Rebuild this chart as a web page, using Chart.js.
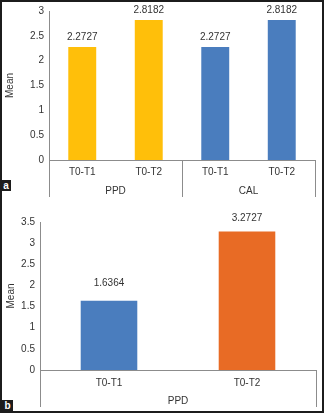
<!DOCTYPE html>
<html>
<head>
<meta charset="utf-8">
<script src="https://cdn.jsdelivr.net/npm/chart.js@4.4.1/dist/chart.umd.min.js"></script>
<style>
  html, body { margin: 0; padding: 0; background: #fff; }
  #wrap { position: relative; width: 324px; height: 413px; overflow: hidden; }
  canvas { position: absolute; left: 0; top: 0; }
  #frame { position: absolute; left: 0; top: 0; width: 324px; height: 413px; box-sizing: border-box; border: 2px solid #1c1c1c; pointer-events: none; }
  .tag { position: absolute; background: #1c1c1c; color: #fff; font: bold 10px "Liberation Sans", Arial, sans-serif; text-align: center; }
</style>
</head>
<body>
<div id="wrap">
  <div style="position:absolute;left:0;top:0;width:324px;height:199px;"><canvas id="ca"></canvas></div>
  <div style="position:absolute;left:0;top:199px;width:324px;height:214px;"><canvas id="cb"></canvas></div>
  <div class="tag" style="left:1px;top:180px;width:10px;height:11px;line-height:11px;">a</div>
  <div class="tag" style="left:2px;top:400px;width:11px;height:12px;line-height:12px;">b</div>
  <div id="frame"></div>
</div>
<script>
// ---- Data ----
const categoriesA = ["T0-T1", "T0-T2", "T0-T1", "T0-T2"];
const groupsA = ["PPD", "CAL"];
const valuesA = [2.2727, 2.8182, 2.2727, 2.8182];
const colorsA = ["#FFBF0A", "#FFBF0A", "#4A7DBE", "#4A7DBE"];

const categoriesB = ["T0-T1", "T0-T2"];
const groupsB = ["PPD"];
const valuesB = [1.6364, 3.2727];
const colorsB = ["#4A7DBE", "#E86B25"];

const FONT = "'Liberation Sans', Arial, sans-serif";
const FS = 10;
const TXT = "#333333";
const AXIS = "#8c8c8c";

const groupDividers = {
  id: "groupDividers",
  afterDraw(chart, args, opts) {
    const xs = chart.scales.x;
    const n = xs.ticks.length;
    const step = n > 1 ? (xs.getPixelForValue(n - 1) - xs.getPixelForValue(0)) / (n - 1) : (xs.right - xs.left);
    const ctx = chart.ctx;
    ctx.save();
    ctx.strokeStyle = AXIS;
    ctx.lineWidth = 1;
    for (let g = 0; g <= n / opts.per; g++) {
      let x = xs.getPixelForValue(0) - step / 2 + g * opts.per * step;
      x = Math.round(x) + 0.5;
      ctx.beginPath();
      ctx.moveTo(x, chart.chartArea.bottom);
      ctx.lineTo(x, chart.chartArea.bottom + opts.len);
      ctx.stroke();
    }
    ctx.restore();
  }
};
const valueLabels = {
  id: "valueLabels",
  afterDatasetsDraw(chart, args, opts) {
    const ctx = chart.ctx;
    const meta = chart.getDatasetMeta(0);
    const data = chart.data.datasets[0].data;
    ctx.save();
    ctx.font = FS + "px " + FONT;
    ctx.fillStyle = TXT;
    ctx.textAlign = "center";
    ctx.textBaseline = "middle";
    meta.data.forEach((el, i) => {
      ctx.fillText(data[i].toFixed(4), el.x, el.y - opts.offsets[i]);
    });
    ctx.restore();
  }
};

function makeChart(id, w, h, cats, groups, vals, colors, o) {
  const c = document.getElementById(id);
  c.width = w; c.height = h;
  c.style.width = w + "px"; c.style.height = h + "px";
  return new Chart(c, {
    type: "bar",
    data: { labels: cats, datasets: [{ data: vals, backgroundColor: colors, barPercentage: o.barPct, categoryPercentage: 1 }] },
    options: {
      responsive: false, animation: false, devicePixelRatio: 1,
      layout: { padding: o.padding },
      plugins: { legend: { display: false }, tooltip: { enabled: false },
        groupDividers: { per: o.per, len: o.divLen },
        valueLabels: { offsets: o.labelOffsets } },
      scales: {
        x: {
          type: "category", position: "bottom", offset: true,
          grid: { display: false, drawTicks: false }, border: { display: true, color: AXIS },
          ticks: { font: { family: FONT, size: FS }, color: TXT, padding: o.xPad, maxRotation: 0, autoSkip: false },
          afterFit(s) { s.height = o.xH; }
        },
        x2: {
          type: "category", position: "bottom", labels: groups, offset: true,
          grid: { display: false, drawTicks: false }, border: { display: false },
          ticks: { font: { family: FONT, size: FS }, color: TXT, padding: o.x2Pad, maxRotation: 0 },
          afterFit(s) { s.height = o.x2H; }
        },
        y: {
          min: 0, max: o.yMax,
          grid: { display: false, drawTicks: false }, border: { display: true, color: AXIS },
          ticks: { stepSize: 0.5, font: { family: FONT, size: FS }, color: TXT, padding: 5,
                   callback: (v) => String(Math.round(v * 100) / 100) },
          title: { display: true, text: "Mean", font: { family: FONT, size: FS }, color: TXT, padding: o.titlePad },
          afterFit(s) { s.width = o.yW; }
        }
      }
    },
    plugins: [groupDividers, valueLabels]
  });
}

makeChart("ca", 324, 199, categoriesA, groupsA, valuesA, colorsA, {
  barPct: 0.42, padding: { top: 10, right: 9, left: 0, bottom: 0 },
  per: 2, divLen: 37, labelOffsets: [10, 10, 10, 10],
  xPad: 6, xH: 22, x2Pad: 3, x2H: 17, yMax: 3, yW: 49, titlePad: { top: 4, bottom: 4 }
});
makeChart("cb", 324, 214, categoriesB, groupsB, valuesB, colorsB, {
  barPct: 0.41, padding: { top: 23, right: 8, left: 0, bottom: 2 },
  per: 2, divLen: 37, labelOffsets: [18, 13],
  xPad: 7, xH: 22, x2Pad: 3, x2H: 19, yMax: 3.5, yW: 40, titlePad: { top: 5, bottom: 4 }
});
</script>
</body>
</html>
